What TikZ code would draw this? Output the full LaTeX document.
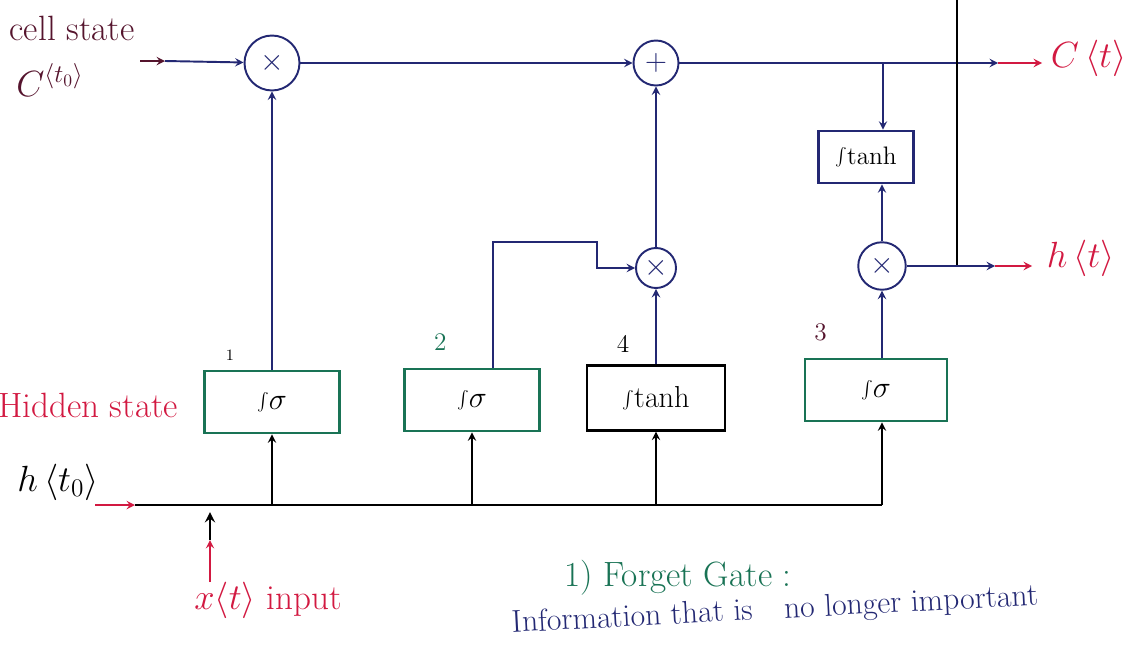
\documentclass[tikz,border=0pt]{standalone}
\usetikzlibrary{positioning}
\definecolor{ink}{RGB}{35,40,115}
\definecolor{gatecol}{RGB}{25,115,85}
\definecolor{redink}{RGB}{210,25,65}
\definecolor{plum}{RGB}{85,20,45}

\begin{document}
\begin{tikzpicture}[x=0.02cm, y=-0.02cm, line width=1.1pt,
	op/.style={draw=ink, circle, inner sep=0pt, font=\LARGE, text=ink},
	gatebox/.style={draw=gatecol, line width=1.3pt, minimum width=2.7cm, minimum height=1.25cm, font=\LARGE},
	tanhbox/.style={draw=black, line width=1.3pt, minimum width=2.75cm, minimum height=1.3cm, font=\LARGE},
	lbl/.style={font=\fontsize{20}{22}\selectfont},
	>=stealth]
	\useasboundingbox (0,0) rectangle (1143,656);
	\clip (0,0) rectangle (1143,656);

	% operations on the cell line
	\node[op, minimum size=1.1cm] (m1) at (272,63) {$\times$};
	\node[op, minimum size=0.9cm] (add) at (656,63) {$+$};
	\node[op, minimum size=0.8cm] (m2) at (656,268) {$\times$};
	\node[op, minimum size=0.95cm] (m3) at (882,266) {$\times$};
	\node[draw=ink, line width=1.2pt, minimum width=1.9cm, minimum height=1.05cm, font=\Large] (th) at (866,157) {$\int\!\tanh$};

	% gates
	\node[gatebox] (g1) at (272,402) {$\int\!\sigma$};
	\node[gatebox] (g2) at (472,400) {$\int\!\sigma$};
	\node[tanhbox] (g4) at (656,398) {$\int\!\tanh$};
	\node[gatebox, minimum width=2.85cm] (g3) at (876,390) {$\int\!\sigma$};
	\node[above left=0.05cm and -0.75cm of g1, font=\small] (n1) {1};
	\node[above left=0.2cm and -1.0cm of g2, gatecol, font=\Large] (n2) {2};
	\node[above left=0.1cm and -1.0cm of g4, font=\Large] (n4) {4};
	\node[above left=0.2cm and -0.6cm of g3, plum, font=\Large] (n3) {3};

	% cell state
	\node[lbl, plum] (cs) at (72,28) {cell state};
	\node[lbl, plum] (c0) at (50,80) {$C^{\langle t_0\rangle}$};
	\coordinate (cin) at (140,61);
	\coordinate (cmid) at (165,61);
	\draw[->, plum] (cin) -- (cmid);
	\draw[->, ink] (cmid) -- (m1);
	\draw[->, ink] (m1) -- (add);
	\coordinate (cout) at (998,63);
	\coordinate (cend) at (1042,63);
	\draw[->, ink] (add) -- (cout);
	\draw[->, redink] (cout) -- (cend);
	\node[lbl, redink, right] (ct) at (1044,58) {$C\,\langle t\rangle$};
	\coordinate (br) at (883,63);
	\draw[->, ink] (br) -- (br |- th.north);
	\draw[->, ink] (m3) -- (m3 |- th.south);

	% hidden output
	\coordinate (vtop) at (957,0);
	\coordinate (vbot) at (957,266);
	\draw (vtop) -- (vbot);
	\coordinate (hout) at (995,266);
	\coordinate (hend) at (1032,266);
	\draw[->, ink] (m3) -- (hout);
	\draw[->, redink] (hout) -- (hend);
	\node[lbl, redink, right] (ht) at (1040,258) {$h\,\langle t\rangle$};

	% gate outputs
	\draw[->, ink] (g1) -- (m1);
	\coordinate (elbow) at (597,242);
	\draw[->, ink] ([xshift=0.42cm]g2.north) |- (elbow) |- (m2);
	\draw[->, ink] (g4) -- (m2);
	\draw[->, ink] (m2) -- (add);
	\draw[->, ink] (g3.north -| m3) -- (m3);

	% hidden state and input line
	\node[lbl, redink] (hs) at (88,405) {Hidden state};
	\node[lbl] (h0) at (58,482) {$h\,\langle t_0\rangle$};
	\coordinate (hl) at (135,505);
	\coordinate (hr) at (882,505);
	\coordinate (hin) at (95,505);
	\draw[->, redink] (hin) -- (hl);
	\draw[line width=1.6pt] (hl) -- (hr);
	\foreach \g in {g1,g2,g4}
		\draw[->] (\g |- hl) -- (\g);
	\draw[->] (hr) -- (hr |- g3.south);
	\coordinate (xin) at (210,582);
	\coordinate (xmid) at (210,540);
	\coordinate (xtop) at (210,512);
	\draw[->, redink] (xin) -- (xmid);
	\draw[->, line width=1.6pt] (xmid) -- (xtop);
	\node[lbl, redink] (xt) at (268,600) {$x\langle t\rangle$ input};

	% notes
	\node[lbl, gatecol] (fg) at (678,578) {1) Forget Gate :};
	\node[font=\fontsize{18}{20}\selectfont, ink, right, rotate=3] (info) at (505,625) {Information that is\quad no longer important};
\end{tikzpicture}
\end{document}
